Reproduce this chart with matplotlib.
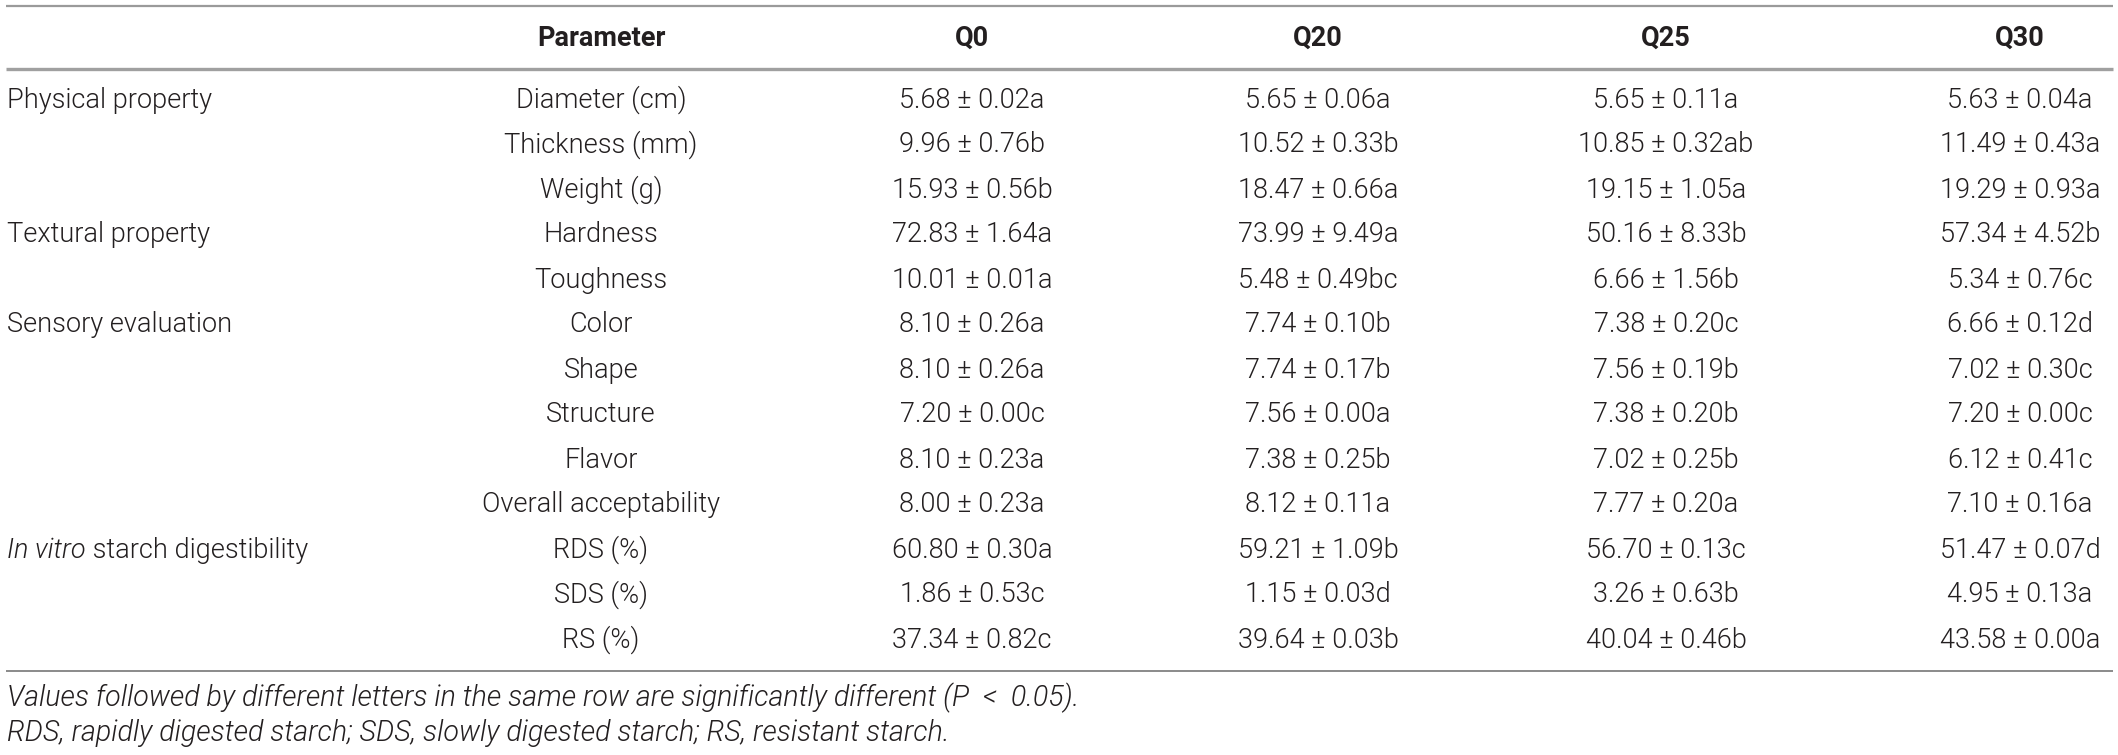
import matplotlib
matplotlib.use("Agg")
import matplotlib.pyplot as plt

plt.rcParams['font.family'] = ['Roboto', 'DejaVu Sans']

columns = ["Q0", "Q20", "Q25", "Q30"]
categories = ["Physical property", "", "", "Textural property", "", "Sensory evaluation",
              "", "", "", "", "In vitro starch digestibility", "", ""]
parameters = ["Diameter (cm)", "Thickness (mm)", "Weight (g)", "Hardness", "Toughness",
              "Color", "Shape", "Structure", "Flavor", "Overall acceptability",
              "RDS (%)", "SDS (%)", "RS (%)"]

q0_mean = [5.68, 9.96, 15.93, 72.83, 10.01, 8.10, 8.10, 7.20, 8.10, 8.00, 60.80, 1.86, 37.34]
q0_sd = [0.02, 0.76, 0.56, 1.64, 0.01, 0.26, 0.26, 0.00, 0.23, 0.23, 0.30, 0.53, 0.82]
q0_let = ["a", "b", "b", "a", "a", "a", "a", "c", "a", "a", "a", "c", "c"]

q20_mean = [5.65, 10.52, 18.47, 73.99, 5.48, 7.74, 7.74, 7.56, 7.38, 8.12, 59.21, 1.15, 39.64]
q20_sd = [0.06, 0.33, 0.66, 9.49, 0.49, 0.10, 0.17, 0.00, 0.25, 0.11, 1.09, 0.03, 0.03]
q20_let = ["a", "b", "a", "a", "bc", "b", "b", "a", "b", "a", "b", "d", "b"]

q25_mean = [5.65, 10.85, 19.15, 50.16, 6.66, 7.38, 7.56, 7.38, 7.02, 7.77, 56.70, 3.26, 40.04]
q25_sd = [0.11, 0.32, 1.05, 8.33, 1.56, 0.20, 0.19, 0.20, 0.25, 0.20, 0.13, 0.63, 0.46]
q25_let = ["a", "ab", "a", "b", "b", "c", "b", "b", "b", "a", "c", "b", "b"]

q30_mean = [5.63, 11.49, 19.29, 57.34, 5.34, 6.66, 7.02, 7.20, 6.12, 7.10, 51.47, 4.95, 43.58]
q30_sd = [0.04, 0.43, 0.93, 4.52, 0.76, 0.12, 0.30, 0.00, 0.41, 0.16, 0.07, 0.13, 0.00]
q30_let = ["a", "a", "a", "b", "c", "d", "c", "c", "c", "a", "d", "a", "a"]

footnotes = ["Values followed by different letters in the same row are significantly different (P  <  0.05).",
             "RDS, rapidly digested starch; SDS, slowly digested starch; RS, resistant starch."]

W, H = 2118, 755
fig = plt.figure(figsize=(W / 100, H / 100), dpi=100)
ax = fig.add_axes([0, 0, 1, 1])
ax.set_xlim(0, W)
ax.set_ylim(H, 0)
ax.axis("off")

txt = "#231f20"
fs = 19.5
fw = 300
x_cat = 7
x_param = 601
x_cols = [972, 1318, 1666, 2020]
y_head = 38
y_row0 = 100
dy = 45

# rules
ax.plot([6, 2113], [6, 6], color="#9a9a9a", lw=1.6, solid_capstyle="butt")
ax.plot([6, 2113], [69, 69], color="#a0a0a0", lw=2.4, solid_capstyle="butt")
ax.plot([6, 2113], [671, 671], color="#8a8a8a", lw=1.4, solid_capstyle="butt")

# header
ax.text(x_param, y_head, "Parameter", ha="center", va="center", fontsize=fs,
        fontweight="bold", color=txt)
for xc, c in zip(x_cols, columns):
    ax.text(xc, y_head, c, ha="center", va="center", fontsize=fs, fontweight="bold", color=txt)

means = [q0_mean, q20_mean, q25_mean, q30_mean]
sds = [q0_sd, q20_sd, q25_sd, q30_sd]
lets = [q0_let, q20_let, q25_let, q30_let]

fig.canvas.draw()
renderer = fig.canvas.get_renderer()

for i, p in enumerate(parameters):
    y = y_row0 + i * dy
    cat = categories[i]
    if cat.startswith("In vitro"):
        t1 = ax.text(x_cat, y, "In vitro", ha="left", va="center", fontsize=fs,
                     style="italic", fontweight=fw, color=txt)
        bb = t1.get_window_extent(renderer=renderer)
        x1 = ax.transData.inverted().transform((bb.x1, 0))[0]
        ax.text(x1, y, " starch digestibility", ha="left", va="center", fontsize=fs,
                fontweight=fw, color=txt)
    elif cat:
        ax.text(x_cat, y, cat, ha="left", va="center", fontsize=fs, fontweight=fw, color=txt)
    ax.text(x_param, y, p, ha="center", va="center", fontsize=fs, fontweight=fw, color=txt)
    for j, xc in enumerate(x_cols):
        s = f"{means[j][i]:.2f} \u00b1 {sds[j][i]:.2f}{lets[j][i]}"
        ax.text(xc, y, s, ha="center", va="center", fontsize=fs, fontweight=fw, color=txt)

ax.text(x_cat, 698, footnotes[0], ha="left", va="center", fontsize=20.6, style="italic",
        fontweight=fw, color=txt)
ax.text(x_cat, 733, footnotes[1], ha="left", va="center", fontsize=20.6, style="italic",
        fontweight=fw, color=txt)

fig.savefig("out.png", dpi=100)
